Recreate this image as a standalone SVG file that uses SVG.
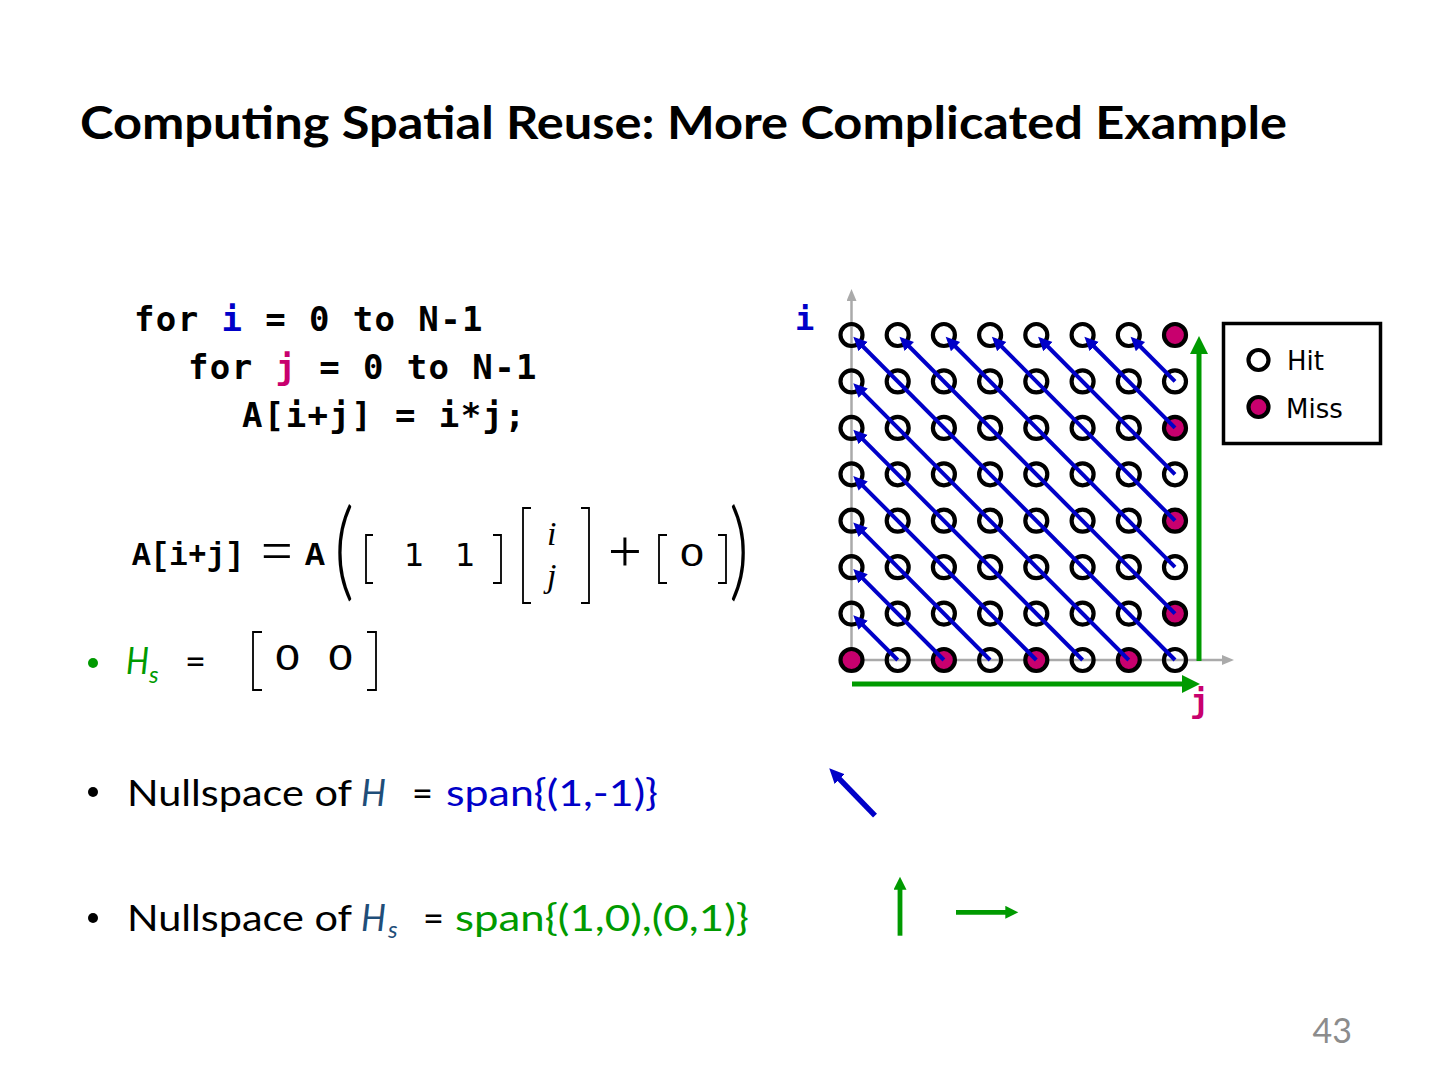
<svg xmlns="http://www.w3.org/2000/svg" width="1440" height="1080" viewBox="0 0 1440 1080">
<style>
.title{font-family:Lato,"Liberation Sans",sans-serif;font-weight:700;font-size:45px;fill:#000}
.body{font-family:Lato,"Liberation Sans",sans-serif;font-size:36px;fill:#000}
.sub{font-size:24px}
.it{font-style:italic}
.code{font-family:"DejaVu Sans Mono","Liberation Mono",monospace;font-weight:700;font-size:34px;letter-spacing:1.4px;fill:#000}
.tt{font-family:"Liberation Mono","DejaVu Sans Mono",monospace;font-weight:700;font-size:33px;fill:#000}
.mrm{font-family:"Liberation Serif",serif;fill:#000}
.paren{font-family:Lato,"Liberation Serif",serif;font-weight:300;font-size:78px;fill:#000}
.msf{font-family:"DejaVu Sans","Liberation Sans",sans-serif;fill:#000}
.leg{font-family:"DejaVu Sans","Liberation Sans",sans-serif;font-size:26px;fill:#000}
.br{fill:none;stroke:#000;stroke-width:1.8}
.c{fill:none;stroke:#000;stroke-width:4.2}
.m{fill:#C8006E;stroke:#000;stroke-width:4.2}
.diag{stroke:#0000C8;stroke-width:4;fill:none;marker-end:url(#bh)}
.axis{stroke:#AAAAAA;stroke-width:2.5;fill:none;marker-end:url(#ah)}
.gr{stroke:#009A00;stroke-width:5;fill:none;marker-end:url(#gh)}
.blue{fill:#0000C8}
.green{fill:#009A00}
.mag{fill:#C8006E}
.hb{fill:#1F4E79}
.pn{font-family:Lato,"Liberation Sans",sans-serif;font-size:34px;fill:#8C8C8C}
</style>
<defs>
<marker id="bh" markerUnits="userSpaceOnUse" markerWidth="16" markerHeight="14" refX="8" refY="6.5" orient="auto"><path d="M0,0 L14,6.5 L0,13 z" fill="#0000C8"/></marker>
<marker id="bh2" markerUnits="userSpaceOnUse" markerWidth="18" markerHeight="16" refX="6" refY="7" orient="auto"><path d="M0,0 L15,7 L0,14 z" fill="#0000C8"/></marker>
<marker id="ah" markerUnits="userSpaceOnUse" markerWidth="14" markerHeight="12" refX="1" refY="5" orient="auto"><path d="M0,0 L12,5 L0,10 z" fill="#AAAAAA"/></marker>
<marker id="gh" markerUnits="userSpaceOnUse" markerWidth="20" markerHeight="20" refX="4" refY="9" orient="auto"><path d="M0,0 L18,9 L0,18 z" fill="#009A00"/></marker>
<marker id="gh2" markerUnits="userSpaceOnUse" markerWidth="16" markerHeight="16" refX="4" refY="6.5" orient="auto"><path d="M0,0 L13,6.5 L0,13 z" fill="#009A00"/></marker>
</defs>
<rect width="1440" height="1080" fill="#fff"/>

<g id="title"><text class="title" x="80" y="139" textLength="1207" lengthAdjust="spacingAndGlyphs">Computing Spatial Reuse: More Complicated Example</text></g>

<g id="code">
<text class="code" x="134" y="331">for <tspan class="blue">i</tspan> = 0 to N-1</text>
<text class="code" x="188" y="379">for <tspan class="mag">j</tspan> = 0 to N-1</text>
<text class="code" x="242" y="427">A[i+j] = i*j;</text>
</g>

<g id="equation">
<text class="tt" x="132" y="565" textLength="112" lengthAdjust="spacingAndGlyphs">A[i+j]</text>
<text class="mrm" x="261" y="570" font-size="56">=</text>
<text class="tt" x="305" y="565">A</text>
<text class="paren" x="0" y="0" transform="translate(334,587) scale(1,1.4)">(</text>
<path class="br" d="M373,535 H366 V583 H373"/>
<text class="msf" x="404" y="566" font-size="32">1</text>
<text class="msf" x="455" y="566" font-size="32">1</text>
<path class="br" d="M493,535 H501 V583 H493"/>
<path class="br" d="M531,508 H523 V603 H531"/>
<text class="mrm it" x="547" y="545" font-size="34">i</text>
<text class="mrm it" x="547" y="587" font-size="34">j</text>
<path class="br" d="M581,508 H589 V603 H581"/>
<text class="mrm" x="608" y="571" font-size="60">+</text>
<path class="br" d="M667,535 H659 V583 H667"/>
<text class="msf" x="679" y="566" font-size="31" textLength="26" lengthAdjust="spacingAndGlyphs">0</text>
<path class="br" d="M718,535 H726 V583 H718"/>
<text class="paren" x="0" y="0" transform="translate(729,587) scale(1,1.4)">)</text>
</g>

<g id="bullet-hs">
<circle cx="93" cy="663" r="5" fill="#009A00"/>
<text class="body it green" x="126" y="674" textLength="23" lengthAdjust="spacingAndGlyphs">H</text>
<text class="body sub it green" x="149" y="683">s</text>
<text class="body" x="185" y="674">=</text>
<path class="br" d="M262,632 H253 V690 H262"/>
<text class="msf" x="274" y="670" font-size="34" textLength="27" lengthAdjust="spacingAndGlyphs">0</text>
<text class="msf" x="327" y="670" font-size="34" textLength="27" lengthAdjust="spacingAndGlyphs">0</text>
<path class="br" d="M367,632 H376 V690 H367"/>
</g>

<g id="bullet-h">
<circle cx="93" cy="792" r="5" fill="#000"/>
<text class="body" x="127" y="806" textLength="225" lengthAdjust="spacingAndGlyphs">Nullspace of</text>
<text class="body it hb" x="361" y="806" textLength="25" lengthAdjust="spacingAndGlyphs">H</text>
<text class="body" x="412" y="806">=</text>
<text class="body blue" x="446" y="806" textLength="212" lengthAdjust="spacingAndGlyphs">span{(1,-1)}</text>
</g>

<g id="bullet-hs2">
<circle cx="93" cy="918" r="5" fill="#000"/>
<text class="body" x="127" y="931" textLength="225" lengthAdjust="spacingAndGlyphs">Nullspace of</text>
<text class="body it hb" x="361" y="931" textLength="25" lengthAdjust="spacingAndGlyphs">H</text>
<text class="body sub it hb" x="388" y="938">s</text>
<text class="body" x="423" y="931">=</text>
<text class="body green" x="455" y="931" textLength="294" lengthAdjust="spacingAndGlyphs">span{(1,0),(0,1)}</text>
</g>

<g id="axes">
<line class="axis" x1="851.5" y1="661" x2="851.5" y2="300"/>
<line class="axis" x1="850" y1="660" x2="1223" y2="660"/>
<text class="code blue" x="795" y="330" style="letter-spacing:0;font-size:32px">i</text>
<text class="code mag" x="1190" y="712" style="letter-spacing:0;font-size:32px">j</text>
</g>

<g id="grid">
<circle class="c" cx="851.5" cy="335" r="11"/><circle class="c" cx="897.7" cy="335" r="11"/><circle class="c" cx="943.9" cy="335" r="11"/><circle class="c" cx="990.1" cy="335" r="11"/><circle class="c" cx="1036.3" cy="335" r="11"/><circle class="c" cx="1082.6" cy="335" r="11"/><circle class="c" cx="1128.8" cy="335" r="11"/><circle class="m" cx="1175" cy="335" r="11"/>
<circle class="c" cx="851.5" cy="381.4" r="11"/><circle class="c" cx="897.7" cy="381.4" r="11"/><circle class="c" cx="943.9" cy="381.4" r="11"/><circle class="c" cx="990.1" cy="381.4" r="11"/><circle class="c" cx="1036.3" cy="381.4" r="11"/><circle class="c" cx="1082.6" cy="381.4" r="11"/><circle class="c" cx="1128.8" cy="381.4" r="11"/><circle class="c" cx="1175" cy="381.4" r="11"/>
<circle class="c" cx="851.5" cy="427.9" r="11"/><circle class="c" cx="897.7" cy="427.9" r="11"/><circle class="c" cx="943.9" cy="427.9" r="11"/><circle class="c" cx="990.1" cy="427.9" r="11"/><circle class="c" cx="1036.3" cy="427.9" r="11"/><circle class="c" cx="1082.6" cy="427.9" r="11"/><circle class="c" cx="1128.8" cy="427.9" r="11"/><circle class="m" cx="1175" cy="427.9" r="11"/>
<circle class="c" cx="851.5" cy="474.3" r="11"/><circle class="c" cx="897.7" cy="474.3" r="11"/><circle class="c" cx="943.9" cy="474.3" r="11"/><circle class="c" cx="990.1" cy="474.3" r="11"/><circle class="c" cx="1036.3" cy="474.3" r="11"/><circle class="c" cx="1082.6" cy="474.3" r="11"/><circle class="c" cx="1128.8" cy="474.3" r="11"/><circle class="c" cx="1175" cy="474.3" r="11"/>
<circle class="c" cx="851.5" cy="520.7" r="11"/><circle class="c" cx="897.7" cy="520.7" r="11"/><circle class="c" cx="943.9" cy="520.7" r="11"/><circle class="c" cx="990.1" cy="520.7" r="11"/><circle class="c" cx="1036.3" cy="520.7" r="11"/><circle class="c" cx="1082.6" cy="520.7" r="11"/><circle class="c" cx="1128.8" cy="520.7" r="11"/><circle class="m" cx="1175" cy="520.7" r="11"/>
<circle class="c" cx="851.5" cy="567.2" r="11"/><circle class="c" cx="897.7" cy="567.2" r="11"/><circle class="c" cx="943.9" cy="567.2" r="11"/><circle class="c" cx="990.1" cy="567.2" r="11"/><circle class="c" cx="1036.3" cy="567.2" r="11"/><circle class="c" cx="1082.6" cy="567.2" r="11"/><circle class="c" cx="1128.8" cy="567.2" r="11"/><circle class="c" cx="1175" cy="567.2" r="11"/>
<circle class="c" cx="851.5" cy="613.6" r="11"/><circle class="c" cx="897.7" cy="613.6" r="11"/><circle class="c" cx="943.9" cy="613.6" r="11"/><circle class="c" cx="990.1" cy="613.6" r="11"/><circle class="c" cx="1036.3" cy="613.6" r="11"/><circle class="c" cx="1082.6" cy="613.6" r="11"/><circle class="c" cx="1128.8" cy="613.6" r="11"/><circle class="m" cx="1175" cy="613.6" r="11"/>
<circle class="m" cx="851.5" cy="660" r="11"/><circle class="c" cx="897.7" cy="660" r="11"/><circle class="m" cx="943.9" cy="660" r="11"/><circle class="c" cx="990.1" cy="660" r="11"/><circle class="m" cx="1036.3" cy="660" r="11"/><circle class="c" cx="1082.6" cy="660" r="11"/><circle class="m" cx="1128.8" cy="660" r="11"/><circle class="c" cx="1175" cy="660" r="11"/>
</g>

<g id="connectors">
<line class="diag" x1="897.7" y1="660" x2="857.5" y2="619.6"/>
<line class="diag" x1="943.9" y1="660" x2="857.5" y2="573.2"/>
<line class="diag" x1="990.1" y1="660" x2="857.5" y2="526.7"/>
<line class="diag" x1="1036.3" y1="660" x2="857.5" y2="480.3"/>
<line class="diag" x1="1082.6" y1="660" x2="857.5" y2="433.9"/>
<line class="diag" x1="1128.8" y1="660" x2="857.5" y2="387.4"/>
<line class="diag" x1="1175" y1="660" x2="857.5" y2="341"/>
<line class="diag" x1="1175" y1="613.6" x2="903.7" y2="341"/>
<line class="diag" x1="1175" y1="567.2" x2="949.9" y2="341"/>
<line class="diag" x1="1175" y1="520.7" x2="996.1" y2="341"/>
<line class="diag" x1="1175" y1="474.3" x2="1042.3" y2="341"/>
<line class="diag" x1="1175" y1="427.9" x2="1088.6" y2="341"/>
<line class="diag" x1="1175" y1="381.4" x2="1134.8" y2="341"/>
<line class="gr" x1="1199" y1="661" x2="1199" y2="350"/>
<line class="gr" x1="852" y1="684" x2="1186" y2="684"/>
<line x1="875" y1="815.7" x2="835.5" y2="774.8" stroke="#0000C8" stroke-width="5.5" marker-end="url(#bh2)"/>
<line x1="900" y1="935.7" x2="900" y2="885.7" stroke="#009A00" stroke-width="4.8" marker-end="url(#gh2)"/>
<line x1="956" y1="912.3" x2="1009.3" y2="912.3" stroke="#009A00" stroke-width="4.8" marker-end="url(#gh2)"/>
</g>

<g id="legend">
<rect x="1223.5" y="323.5" width="157" height="120" fill="#fff" stroke="#000" stroke-width="3.5"/>
<circle class="c" cx="1258.5" cy="360" r="10"/>
<circle class="m" cx="1258.5" cy="407" r="10"/>
<text class="leg" x="1287" y="370">Hit</text>
<text class="leg" x="1286" y="418">Miss</text>
</g>

<g id="page-number"><text class="pn" x="1352" y="1043" text-anchor="end">43</text></g>
</svg>
